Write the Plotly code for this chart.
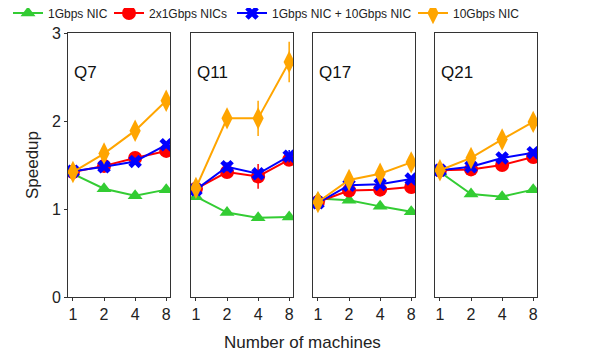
import plotly.graph_objects as go

machines = [1, 2, 4, 8]
queries = ["Q7", "Q11", "Q17", "Q21"]
series_names = ["1Gbps NIC", "2x1Gbps NICs", "1Gbps NIC + 10Gbps NIC", "10Gbps NIC"]

# speedup values per query, per series (order of series_names)
speedup = {
    "Q7": [
        [1.40, 1.23, 1.15, 1.22],
        [1.42, 1.49, 1.58, 1.66],
        [1.43, 1.48, 1.54, 1.73],
        [1.42, 1.63, 1.89, 2.23],
    ],
    "Q11": [
        [1.14, 0.96, 0.90, 0.91],
        [1.23, 1.42, 1.37, 1.56],
        [1.22, 1.48, 1.40, 1.60],
        [1.24, 2.03, 2.03, 2.67],
    ],
    "Q17": [
        [1.12, 1.10, 1.03, 0.97],
        [1.08, 1.21, 1.22, 1.25],
        [1.07, 1.27, 1.28, 1.34],
        [1.08, 1.33, 1.40, 1.53],
    ],
    "Q21": [
        [1.42, 1.17, 1.14, 1.22],
        [1.44, 1.45, 1.50, 1.59],
        [1.44, 1.48, 1.58, 1.64],
        [1.44, 1.58, 1.79, 1.99],
    ],
}
errors = {
    "Q7": [[0, 0, 0, 0], [0, 0, 0, 0], [0, 0, 0, 0.03], [0, 0, 0, 0]],
    "Q11": [[0, 0, 0, 0], [0, 0, 0.14, 0], [0, 0.05, 0, 0.07], [0, 0, 0.20, 0.23]],
    "Q17": [[0, 0, 0, 0], [0, 0, 0, 0], [0, 0, 0, 0], [0, 0, 0, 0]],
    "Q21": [[0, 0, 0, 0], [0, 0, 0, 0], [0, 0, 0, 0], [0, 0, 0, 0]],
}

colors = ["#33cc33", "#ff0000", "#0000ff", "#ffa500"]
symbols = ["triangle-up", "circle", "x", "diamond-tall"]
sizes = [13, 14, 12, 16]

W, H = 593, 350  # page body adds an 8px margin
domains = [(0.0, 0.2175), (0.2623, 0.4797), (0.5224, 0.7399), (0.7825, 1.0)]
legend_ids = ["legend", "legend2", "legend3", "legend4"]
legend_x_px = [-6, 101, 224, 405]

fig = go.Figure()
for qi, q in enumerate(queries):
    xa = "x" if qi == 0 else f"x{qi+1}"
    ya = "y" if qi == 0 else f"y{qi+1}"
    for si, name in enumerate(series_names):
        fig.add_trace(go.Scatter(
            x=machines, y=speedup[q][si],
            mode="lines+markers",
            name=name,
            legend=legend_ids[si],
            showlegend=(qi == 0),
            line=dict(color=colors[si], width=2),
            marker=dict(symbol=symbols[si], size=sizes[si], color=colors[si]),
            error_y=dict(type="data", array=errors[q][si], visible=True,
                         color=colors[si], thickness=1.5, width=0),
            xaxis=xa, yaxis=ya,
        ))

layout = dict(
    width=W, height=H,
    margin=dict(l=60, r=64, t=25, b=61, autoexpand=False),
    plot_bgcolor="white", paper_bgcolor="white",
    font=dict(family="Liberation Sans", color="#222222"),
    showlegend=True,
)
for si, lid in enumerate(legend_ids):
    layout[lid] = dict(
        orientation="h", xref="container", yref="container",
        x=legend_x_px[si] / W, y=1 - 5 / H, xanchor="left", yanchor="middle",
        font=dict(size=12), itemwidth=30, bgcolor="rgba(0,0,0,0)",
    )
for qi in range(4):
    sfx = "" if qi == 0 else str(qi + 1)
    layout[f"xaxis{sfx}"] = dict(
        domain=list(domains[qi]), type="log", range=[-0.048, 0.94],
        tickvals=machines, ticktext=[str(m) for m in machines],
        showline=True, mirror=True, linecolor="#333333", linewidth=1,
        ticks="outside", ticklen=3, tickcolor="#333333",
        showgrid=False, zeroline=False, tickfont=dict(size=16),
        anchor="y" + sfx,
    )
    layout[f"yaxis{sfx}"] = dict(
        range=[0, 3], tickvals=[0, 1, 2, 3],
        showticklabels=(qi == 0),
        showline=True, mirror=True, linecolor="#333333", linewidth=1,
        ticks="outside" if qi == 0 else "", ticklen=3, tickcolor="#333333",
        showgrid=False, zeroline=False, tickfont=dict(size=16),
        anchor="x" + sfx,
    )
    fig.add_annotation(
        text=queries[qi], xref="paper", yref="paper",
        x=domains[qi][0] + 0.008, y=0.85, xanchor="left", yanchor="middle",
        showarrow=False, font=dict(size=17, color="#111111"),
    )
layout["yaxis"]["title"] = dict(text="Speedup", font=dict(size=17), standoff=8)
fig.update_layout(**layout)
fig.add_annotation(text="Number of machines", xref="paper", yref="paper",
                   x=0.5, y=-0.174, xanchor="center", yanchor="middle",
                   showarrow=False, font=dict(size=17))

fig.write_html("out.html")
